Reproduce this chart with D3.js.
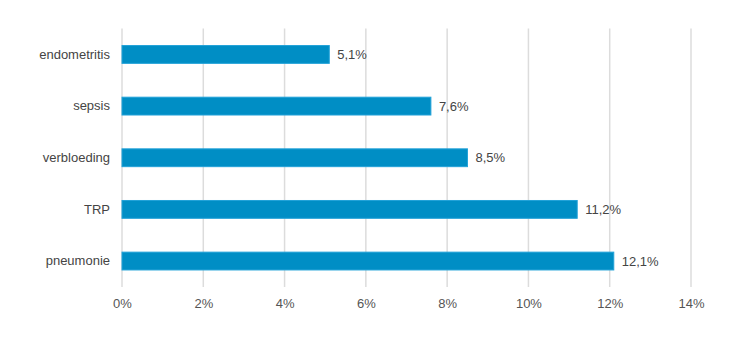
<!DOCTYPE html>
<html>
<head>
<meta charset="utf-8">
<script src="https://cdn.jsdelivr.net/npm/d3@7"></script>
<style>
  html, body { margin: 0; padding: 0; background: #fff; }
  svg text { font-family: "Liberation Sans", Arial, sans-serif; }
</style>
</head>
<body>
<svg id="chart" width="736" height="338"></svg>
<script>
// Complication rates (%) per category
const categories = ["endometritis", "sepsis", "verbloeding", "TRP", "pneumonie"];
const values = [5.1, 7.6, 8.5, 11.2, 12.1];
const tickValues = [0, 2, 4, 6, 8, 10, 12, 14];

const svg = d3.select("#chart");
const margin = { top: 28.5, right: 45, bottom: 51, left: 122 };
const width = 736 - margin.left - margin.right;
const height = 338 - margin.top - margin.bottom;

const x = d3.scaleLinear().domain([0, 14]).range([0, width]);
const y = d3.scaleBand().domain(categories).range([0, height]).paddingInner(0.655).paddingOuter(0.33);

const g = svg.append("g").attr("transform", `translate(${margin.left},${margin.top})`);

const fmt = v => (v + "").replace(".", ",") + "%";

// vertical gridlines
g.selectAll("line.grid").data(tickValues).join("line")
  .attr("class", "grid")
  .attr("x1", d => x(d)).attr("x2", d => x(d))
  .attr("y1", 0).attr("y2", height)
  .attr("stroke", "#dcdcdc").attr("stroke-width", 1.5);

// x axis labels
const xAxis = d3.axisBottom(x).tickValues(tickValues).tickFormat(d => d + "%").tickSize(0).tickPadding(12);
const xa = g.append("g").attr("transform", `translate(0,${height})`).call(xAxis);
xa.select(".domain").remove();
xa.selectAll("text").attr("font-size", 13).attr("fill", "#555");

// y axis labels
const yAxis = d3.axisLeft(y).tickSize(0).tickPadding(12);
const ya = g.append("g").call(yAxis);
ya.select(".domain").remove();
ya.selectAll("text").attr("font-size", 13).attr("fill", "#444");

// bars
g.selectAll("rect.bar").data(categories).join("rect")
  .attr("class", "bar")
  .attr("x", 0)
  .attr("y", d => y(d))
  .attr("width", (d, i) => x(values[i]))
  .attr("height", y.bandwidth())
  .attr("fill", "#008ec5")
  .attr("stroke", "#22a2d8")
  .attr("stroke-width", 1);

// value labels
g.selectAll("text.val").data(categories).join("text")
  .attr("class", "val")
  .attr("x", (d, i) => x(values[i]) + 8)
  .attr("y", d => y(d) + y.bandwidth() / 2)
  .attr("dy", "0.35em")
  .attr("font-size", 13)
  .attr("fill", "#444")
  .text((d, i) => fmt(values[i]));
</script>
</body>
</html>
